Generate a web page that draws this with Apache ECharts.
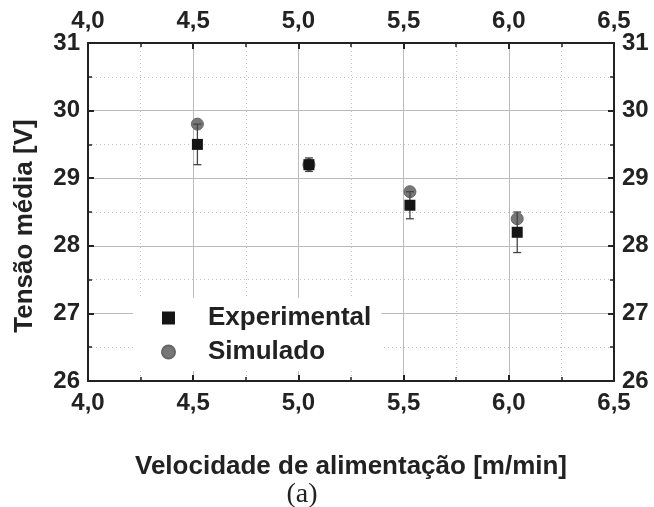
<!DOCTYPE html>
<html>
<head>
<meta charset="utf-8">
<script src="https://cdn.jsdelivr.net/npm/echarts@6/dist/echarts.min.js"></script>
<style>
  html, body { margin: 0; padding: 0; background: #fff; }
  #chart { width: 654px; height: 507px; }
</style>
</head>
<body>
<div id="chart"></div>
<script>
// dados
const velocidade = [4.52, 5.05, 5.53, 6.04]
const tensaoExp = [29.5, 29.2, 28.6, 28.2]
const erroExp = [0.3, 0.1, 0.2, 0.3]
const tensaoSim = [29.8, 29.2, 28.8, 28.4]

const fonte = 'Liberation Sans, Arial, sans-serif'
const virgula = v => v.toFixed(1).replace('.', ',')

const expData = velocidade.map((x, i) => [x, tensaoExp[i]])
const simData = velocidade.map((x, i) => [x, tensaoSim[i]])
const erroData = velocidade.map((x, i) => [x, tensaoExp[i] - erroExp[i], tensaoExp[i] + erroExp[i]])

const chart = echarts.init(document.getElementById('chart'))

const eixoX = (pos, show) => ({
  type: 'value',
  position: pos,
  min: 4,
  max: 6.5,
  interval: 0.5,
  axisLine: { show: true, onZero: false, lineStyle: { color: '#222', width: 2 } },
  axisTick: { show: true, inside: true, length: 6, lineStyle: { color: '#222', width: 2 } },
  minorTick: { show: true, splitNumber: 2, length: 4, lineStyle: { color: '#222', width: 1.5 } },
  axisLabel: {
    formatter: virgula,
    fontFamily: fonte, fontWeight: 'bold', fontSize: 24, color: '#222', margin: 10
  },
  splitLine: { show: show, lineStyle: { color: '#bbb', width: 1 } },
  minorSplitLine: { show: show, lineStyle: { color: '#c4c4c4', width: 1, type: [1, 3] } }
})

const eixoY = (pos, show) => ({
  type: 'value',
  position: pos,
  min: 26,
  max: 31,
  interval: 1,
  axisLine: { show: true, onZero: false, lineStyle: { color: '#222', width: 2 } },
  axisTick: { show: true, inside: true, length: 6, lineStyle: { color: '#222', width: 2 } },
  minorTick: { show: true, splitNumber: 2, length: 4, lineStyle: { color: '#222', width: 1.5 } },
  axisLabel: {
    fontFamily: fonte, fontWeight: 'bold', fontSize: 24, color: '#222', margin: 8
  },
  splitLine: { show: show, lineStyle: { color: '#bbb', width: 1 } },
  minorSplitLine: { show: show, lineStyle: { color: '#c4c4c4', width: 1, type: [1, 3] } }
})

const xBaixo = Object.assign(eixoX('bottom', true), {
  name: 'Velocidade de alimentação [m/min]',
  nameLocation: 'middle',
  nameGap: 73,
  nameTextStyle: { fontFamily: fonte, fontWeight: 'bold', fontSize: 26, color: '#222' }
})
const yEsq = Object.assign(eixoY('left', true), {
  name: 'Tensão média [V]',
  nameLocation: 'middle',
  nameGap: 50,
  nameTextStyle: { fontFamily: fonte, fontWeight: 'bold', fontSize: 26, color: '#222', padding: [0, 28, 0, 0] }
})

const option = {
  backgroundColor: '#fff',
  animation: false,
  grid: { left: 88, right: 40, top: 43, bottom: 126 },
  title: {
    text: '(a)',
    left: 297,
    top: 476,
    textAlign: 'center',
    textStyle: { fontFamily: 'Liberation Serif, Times New Roman, serif', fontWeight: 'normal', fontSize: 28, color: '#222' }
  },
  legend: {
    orient: 'vertical',
    left: 133,
    top: 298,
    padding: [7, 10, 6, 28],
    itemGap: 8,
    itemWidth: 13,
    itemHeight: 13,
    backgroundColor: '#fff',
    data: [
      { name: 'Experimental', icon: 'rect', itemStyle: { color: '#151515', opacity: 1 } },
      { name: 'Simulado', icon: 'circle', itemStyle: { color: '#777', opacity: 1 } }
    ],
    textStyle: { fontFamily: fonte, fontWeight: 'bold', fontSize: 26, color: '#222', padding: [0, 0, 0, 28] }
  },
  xAxis: [xBaixo, eixoX('top', false)],
  yAxis: [yEsq, eixoY('right', false)],
  series: [
    {
      name: 'Simulado',
      type: 'scatter',
      symbol: 'circle',
      symbolSize: 12,
      itemStyle: { color: '#777', borderColor: '#666', borderWidth: 1, opacity: 1 },
      data: simData,
      z: 2
    },
    {
      name: 'erro',
      type: 'custom',
      z: 3,
      renderItem: (params, api) => {
        const x = api.value(0)
        const baixo = api.coord([x, api.value(1)])
        const alto = api.coord([x, api.value(2)])
        const m = 4
        const estilo = { stroke: '#444', lineWidth: 1.3 }
        return {
          type: 'group',
          children: [
            { type: 'line', shape: { x1: baixo[0], y1: baixo[1], x2: alto[0], y2: alto[1] }, style: estilo },
            { type: 'line', shape: { x1: baixo[0] - m, y1: baixo[1], x2: baixo[0] + m, y2: baixo[1] }, style: estilo },
            { type: 'line', shape: { x1: alto[0] - m, y1: alto[1], x2: alto[0] + m, y2: alto[1] }, style: estilo }
          ]
        }
      },
      data: erroData
    },
    {
      name: 'Experimental',
      type: 'scatter',
      symbol: 'rect',
      symbolSize: 11,
      itemStyle: { color: '#151515', opacity: 1 },
      data: expData,
      z: 4
    }
  ]
}

chart.setOption(option)
</script>
</body>
</html>
